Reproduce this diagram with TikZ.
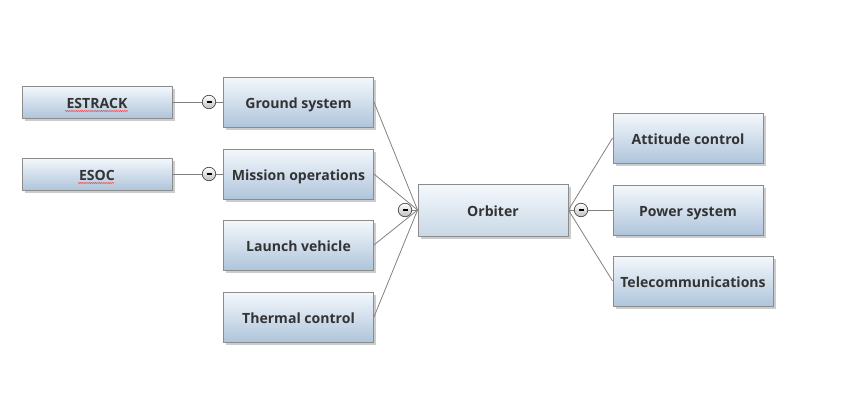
\documentclass[tikz,border=0pt]{standalone}
\usepackage{fontspec}
\setmainfont{Open Sans}
\usepackage{tikz}
\usetikzlibrary{shadows,backgrounds,calc,decorations.pathmorphing}
\definecolor{boxtop}{HTML}{F4F8FC}
\definecolor{boxbot}{HTML}{AFC5DB}
\definecolor{orbbot}{HTML}{C9D8E6}
\definecolor{boxline}{HTML}{8C8C8C}
\definecolor{txt}{HTML}{333333}
\definecolor{wire}{HTML}{808080}

\begin{document}
\begin{tikzpicture}[font=\fontsize{8}{10}\selectfont\bfseries]
    \tikzstyle{topic}=[rectangle, draw=boxline, line width=0.5pt, text=txt,
        top color=boxtop, bottom color=boxbot, minimum width=3cm, minimum height=1cm,
        text height=1.6ex, text depth=0.27ex,
        drop shadow={shadow xshift=0.05cm, shadow yshift=-0.05cm, opacity=0.4}]
    \tikzstyle{leaf}=[topic, minimum height=0.64cm]
    \tikzstyle{central}=[topic, bottom color=orbbot, minimum height=1.04cm]
    \tikzstyle{fold}=[circle, draw=black!70, line width=0.4pt, inner sep=0pt,
        minimum size=0.27cm, top color=white, bottom color=black!25]
    \tikzstyle{wire}=[draw=wire, line width=0.45pt]
    \tikzstyle{spellmark}=[draw=red!80, line width=0.3pt,
        decorate, decoration={snake, amplitude=0.25pt, segment length=1.2pt}]

    \useasboundingbox (0,0) rectangle (17,8.3);

    % left side
    \node[leaf]    (estrack) at (1.94,6.26) {ESTRACK};
    \node[leaf]    (esoc)    at (1.94,4.82) {ESOC};
    \node[topic]   (ground)  at (5.97,6.26) {Ground system};
    \node[topic]   (mission) at (5.97,4.82) {Mission operations};
    \node[topic]   (launch)  at (5.97,3.40) {Launch vehicle};
    \node[topic]   (thermal) at (5.97,1.96) {Thermal control};

    % centre
    \node[central] (orbiter) at (9.86,4.10) {Orbiter};

    % right side
    \node[topic]   (attitude) at (13.76,5.54) {Attitude control};
    \node[topic]   (power)    at (13.76,4.10) {Power system};
    \node[topic, minimum width=3.2cm] (telecom) at (13.86,2.68) {Telecommunications};

    % fold buttons
    \node[fold] (f1) at (4.18,6.26)  {\rule{0.1cm}{0.035cm}};
    \node[fold] (f2) at (4.18,4.82)  {\rule{0.1cm}{0.035cm}};
    \node[fold] (f3) at (8.10,4.10)  {\rule{0.1cm}{0.035cm}};
    \node[fold] (f4) at (11.62,4.10) {\rule{0.1cm}{0.035cm}};

    \begin{scope}[on background layer]
        \draw[wire] (estrack.east) -- (f1) -- (ground.west);
        \draw[wire] (esoc.east) -- (f2) -- (mission.west);
        \foreach \n in {ground,mission,launch,thermal}
            \draw[wire] (\n.east) -- (orbiter.west);
        \draw[wire] (orbiter.west) -- (f3);
        \draw[wire] (orbiter.east) -- (f4) -- (power.west);
        \draw[wire] (orbiter.east) -- (attitude.west);
        \draw[wire] (orbiter.east) -- (telecom.west);
    \end{scope}

    % spell check marks
    \draw[spellmark] ($(estrack.center)+(-0.64,-0.18)$) -- ($(estrack.center)+(0.62,-0.18)$);
    \draw[spellmark] ($(esoc.center)+(-0.38,-0.18)$) -- ($(esoc.center)+(0.34,-0.18)$);

\end{tikzpicture}
\end{document}
